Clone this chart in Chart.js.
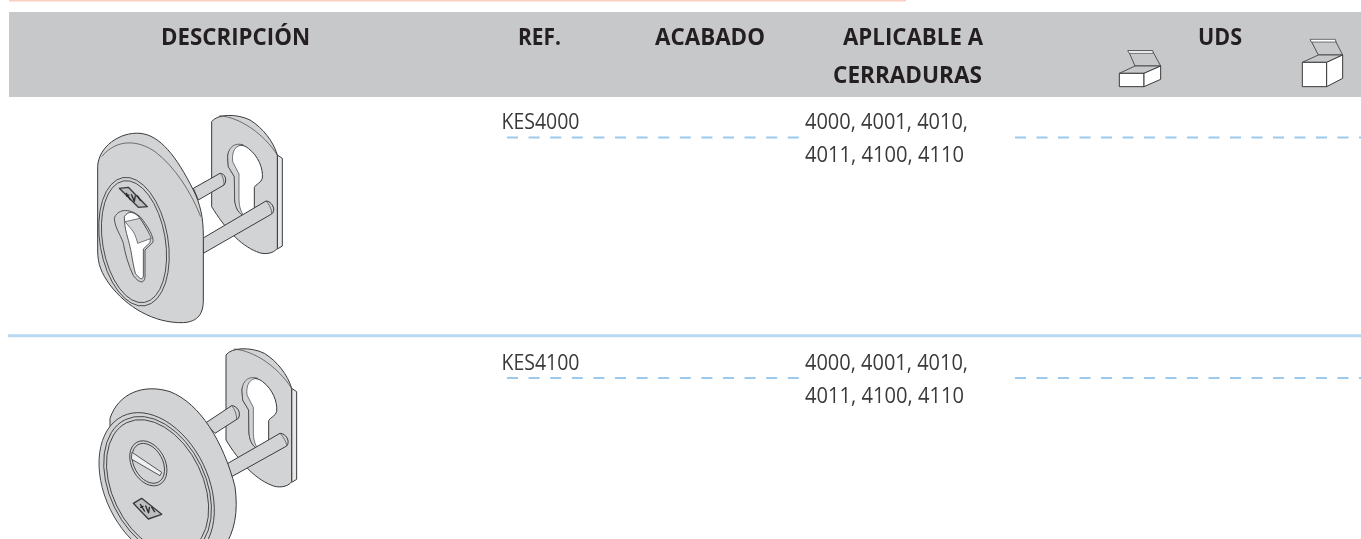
<!DOCTYPE html>
<html lang="es">
<head>
<meta charset="utf-8">
<title>KES</title>
<script src="https://cdn.jsdelivr.net/npm/chart.js@4/dist/chart.umd.min.js"></script>
<style>
  html, body { margin: 0; padding: 0; background: #fff; overflow: hidden; }
  #tabla { display: block; width: 1361px; height: 539px; }
</style>
</head>
<body>
<canvas id="tabla" width="1361" height="539"></canvas>
<script>
// table contents
const headers = ["DESCRIPCIÓN", "REF.", "ACABADO", "APLICABLE A", "CERRADURAS", "UDS"];
const headerX = [161, 518, 655, 843, 833, 1198];
const headerW = [149, 43, 110, 140, 149, 44];
const headerY = [45, 45, 45, 45, 83, 45];
const refs = ["KES4000", "KES4100"];
const refY = [128.5, 370];
const locks1 = ["4000, 4001, 4010,", "4000, 4001, 4010,"];
const locks2 = ["4011, 4100, 4110", "4011, 4100, 4110"];
const locks2Y = [161.5, 403];
const dashY = [137.5, 378];
const ruleTop = 0.5;
const ruleRow = 335.7;
const bandTop = 12;
const bandBottom = 97;

const GREY = "#d1d3d4";
const INK = "#3a3a3c";

function shape(ctx, d, fill, lw) {
  let p = new Path2D(d);
  if (fill) { ctx.fillStyle = fill; ctx.fill(p); }
  if (lw !== 0) {
    ctx.strokeStyle = INK;
    ctx.lineWidth = lw || 3;
    ctx.stroke(p);
  }
}

// plate at the back, same piece in both drawings
function backPlate(ctx) {
  shape(ctx, "M652,165 L667,175 L667,438 L652,447 Z", "#e6e7e8");
  shape(ctx, "M455,65 C470,42 530,40 570,60 C610,85 640,125 652,165 L652,445 C640,462 610,465 590,455 C540,435 495,385 455,320 Z", GREY);
  shape(ctx, "M478,47 C540,52 610,100 652,165", null, 2);
  shape(ctx, "M503,170 C505,138 540,125 565,145 C595,168 610,205 607,235 C604,248 588,252 583,262 L583,330 L553,348 C535,340 527,325 524,300 L523,230 L505,200 Z", "#fff");
  shape(ctx, "M503,170 C505,138 528,127 550,135 C525,135 515,155 518,185 L537,222 L537,300 C538,325 545,340 553,348 C535,340 527,325 524,300 L523,230 L505,200 Z", GREY, 2);
}

function pin(ctx, d, end) {
  shape(ctx, d, GREY);
  shape(ctx, end, GREY, 2);
}

function logo(ctx, ax, ay, bx, by, cx, cy, dx, dy) {
  shape(ctx, `M${ax},${ay} L${bx},${by} L${cx},${cy} L${dx},${dy} Z`, "#bcbec0", 4);
  let mx = (ax + cx) / 2, my = (ay + cy) / 2;
  ctx.strokeStyle = "#2b2b2d";
  ctx.lineWidth = 4;
  ctx.beginPath();
  ctx.moveTo(mx - 22, my - 14); ctx.lineTo(mx - 8, my + 8); ctx.moveTo(mx - 22, my - 4); ctx.lineTo(mx - 12, my - 8);
  ctx.moveTo(mx - 6, my - 10); ctx.lineTo(mx + 3, my + 12); ctx.lineTo(mx + 6, my - 6);
  ctx.moveTo(mx + 12, my - 6); ctx.lineTo(mx + 22, my + 10);
  ctx.stroke();
}

function rosette1(ctx) {
  backPlate(ctx);
  pin(ctx, "M400,265 L480,220 C495,220 503,240 492,255 L415,300 Z", "M480,220 C490,228 492,245 492,255");
  pin(ctx, "M428,415 L618,303 C635,303 650,330 635,342 L430,460 Z", "M618,303 C628,312 636,330 635,342");
  // front piece
  shape(ctx, "M113,200 C115,140 180,95 240,100 C300,105 350,170 400,270 C420,310 430,350 430,410 L430,600 C430,640 415,665 370,668 C280,670 200,620 150,555 C125,520 113,495 113,450 Z", GREY);
  shape(ctx, "M125,170 C170,115 235,120 285,155 C345,200 395,280 422,350", null, 2);
  // ring around the keyhole
  ctx.save();
  ctx.translate(222, 425);
  ctx.rotate(-0.17);
  ctx.strokeStyle = INK;
  ctx.lineWidth = 2.5;
  ctx.beginPath(); ctx.ellipse(0, 0, 102, 195, 0, 0, Math.PI * 2); ctx.stroke();
  ctx.beginPath(); ctx.ellipse(0, 0, 94, 185, 0, 0, Math.PI * 2); ctx.stroke();
  ctx.restore();
  logo(ctx, 178, 265, 205, 262, 262, 320, 235, 322);
  // keyhole: rim, hole, then the pin seen through it
  shape(ctx, "M163,355 C170,330 205,320 240,350 C262,375 285,415 278,428 L255,450 L255,532 C252,552 238,550 220,527 C205,495 195,460 190,430 C180,400 165,385 163,355 Z", GREY, 2.5);
  shape(ctx, "M193,350 C205,330 225,335 240,355 C258,380 275,412 270,428 L250,447 L250,528 C248,542 240,538 226,520 C218,490 215,460 210,440 C205,415 193,390 193,350 Z", "#fff", 2.5);
  shape(ctx, "M195,365 L240,355 C255,378 268,400 274,415 L233,430 C228,410 222,395 212,385 Z", GREY, 2);
}

function rosette2(ctx) {
  ctx.save();
  ctx.translate(43, -5);
  backPlate(ctx);
  ctx.restore();
  pin(ctx, "M435,265 L515,212 C530,212 545,232 535,250 L465,295 Z", "M515,212 C525,222 530,240 530,252");
  pin(ctx, "M495,390 L660,295 C678,295 692,320 680,333 L515,425 Z", "M660,295 C670,305 680,322 680,333");
  // body of the disc
  shape(ctx, "M150,250 C175,175 250,145 330,170 C420,205 490,320 525,455 C535,530 525,590 490,640 L300,640 L150,400 Z", GREY);
  ctx.save();
  ctx.translate(290, 455);
  ctx.rotate(-0.45);
  ctx.strokeStyle = INK;
  ctx.lineWidth = 2.5;
  ctx.fillStyle = GREY;
  ctx.beginPath(); ctx.ellipse(0, 0, 155, 235, 0, 0, Math.PI * 2); ctx.fill(); ctx.stroke();
  ctx.beginPath(); ctx.ellipse(3, 0, 144, 222, 0, 0, Math.PI * 2); ctx.stroke();
  ctx.beginPath(); ctx.ellipse(3, 0, 136, 212, 0, 0, Math.PI * 2); ctx.stroke();
  ctx.restore();
  // cylinder cover and slot
  ctx.save();
  ctx.translate(265, 385);
  ctx.rotate(-0.5);
  ctx.strokeStyle = INK;
  ctx.lineWidth = 2.5;
  ctx.beginPath(); ctx.ellipse(0, 0, 50, 72, 0, 0, Math.PI * 2); ctx.stroke();
  ctx.beginPath(); ctx.ellipse(0, 0, 43, 64, 0, 0, Math.PI * 2); ctx.stroke();
  ctx.restore();
  shape(ctx, "M216,352 L305,412 L300,422 L214,372 Z", "#eeeff0", 2.5);
  logo(ctx, 220, 505, 245, 490, 305, 538, 265, 552);
}

function boxSmall(ctx) {
  shape(ctx, "M165,198 L145,152 L217,152 L242,198 Z", "#c7c8ca", 2.5);
  shape(ctx, "M143,152 L218,152 L220,160 L148,160 Z", "#fff", 2);
  shape(ctx, "M118,220 L165,198 L242,198 L192,220 Z", "#c7c8ca", 2.5);
  shape(ctx, "M118,220 H192 V260 H118 Z", "#fff", 3);
  shape(ctx, "M192,220 L242,198 L242,238 L192,260 Z", "#fff", 3);
}

function boxLarge(ctx) {
  shape(ctx, "M715,165 L692,120 L765,120 L788,165 Z", "#c7c8ca", 2.5);
  shape(ctx, "M690,118 L766,118 L768,126 L694,126 Z", "#fff", 2);
  shape(ctx, "M667,187 L715,165 L788,165 L740,187 Z", "#c7c8ca", 2.5);
  shape(ctx, "M667,187 H740 V260 H667 Z", "#fff", 3);
  shape(ctx, "M740,187 L788,165 L788,235 L740,260 Z", "#fff", 3);
}

function drawnIn3x(ctx, ox, oy, fn) {
  ctx.save();
  ctx.translate(ox, oy);
  ctx.scale(1 / 3, 1 / 3);
  ctx.lineJoin = "round";
  fn(ctx);
  ctx.restore();
}

const tablePlugin = {
  id: "tablePlugin",
  afterDatasetsDraw(chart) {
    const { ctx, scales: { x, y } } = chart;

    ctx.save();
    // keep the second drawing under the blue rule
    ctx.beginPath();
    ctx.rect(0, 338, 1361, 201);
    ctx.clip();
    drawnIn3x(ctx, 60, 335, rosette2);
    ctx.restore();
    drawnIn3x(ctx, 60, 100, rosette1);
    drawnIn3x(ctx, 1080, 0, boxSmall);
    drawnIn3x(ctx, 1080, 0, boxLarge);

    ctx.save();
    ctx.textBaseline = "alphabetic";
    ctx.fillStyle = "#231f20";
    ctx.font = "bold 23.5px 'Open Sans'";
    headers.forEach((h, i) => {
      ctx.fillText(h, x.getPixelForValue(headerX[i]), y.getPixelForValue(headerY[i]), headerW[i]);
    });
    ctx.fillStyle = "#3a3a3c";
    ctx.font = "22px 'Open Sans'";
    refs.forEach((r, i) => {
      ctx.fillText(r, x.getPixelForValue(501.5), y.getPixelForValue(refY[i]), 78);
      ctx.fillText(locks1[i], x.getPixelForValue(805), y.getPixelForValue(refY[i]), 163);
      ctx.fillText(locks2[i], x.getPixelForValue(805), y.getPixelForValue(locks2Y[i]), 159);
    });
    ctx.restore();
  }
};

function hline(yVal, x0, x1, color, width, dash) {
  return {
    data: [{ x: x0, y: yVal }, { x: x1, y: yVal }],
    borderColor: color,
    borderWidth: width,
    borderDash: dash || [],
    pointRadius: 0,
    fill: false
  };
}

const datasets = [
  // grey header band, filled between its two edges
  {
    data: [{ x: 9, y: bandTop }, { x: 1361, y: bandTop }],
    borderWidth: 0,
    pointRadius: 0,
    backgroundColor: "#c7c8ca",
    fill: "+1"
  },
  {
    data: [{ x: 9, y: bandBottom }, { x: 1361, y: bandBottom }],
    borderWidth: 0,
    pointRadius: 0,
    fill: false
  },
  hline(ruleTop, 9, 906, "#f9cfc2", 2),
  hline(ruleRow, 8, 1361, "#b9d8f2", 3)
];
dashY.forEach(d => {
  datasets.push(hline(d, 507, 804, "#9cc9ee", 2, [11, 10.6]));
  datasets.push(hline(d, 1015, 1361, "#9cc9ee", 2, [11, 10.5]));
});

new Chart(document.getElementById("tabla"), {
  type: "line",
  data: { datasets },
  options: {
    responsive: false,
    animation: false,
    parsing: false,
    layout: { padding: 0 },
    plugins: { legend: { display: false }, tooltip: { enabled: false } },
    scales: {
      x: { type: "linear", min: 0, max: 1361, display: false },
      y: { type: "linear", min: 0, max: 539, reverse: true, display: false }
    }
  },
  plugins: [tablePlugin]
});
</script>
</body>
</html>
